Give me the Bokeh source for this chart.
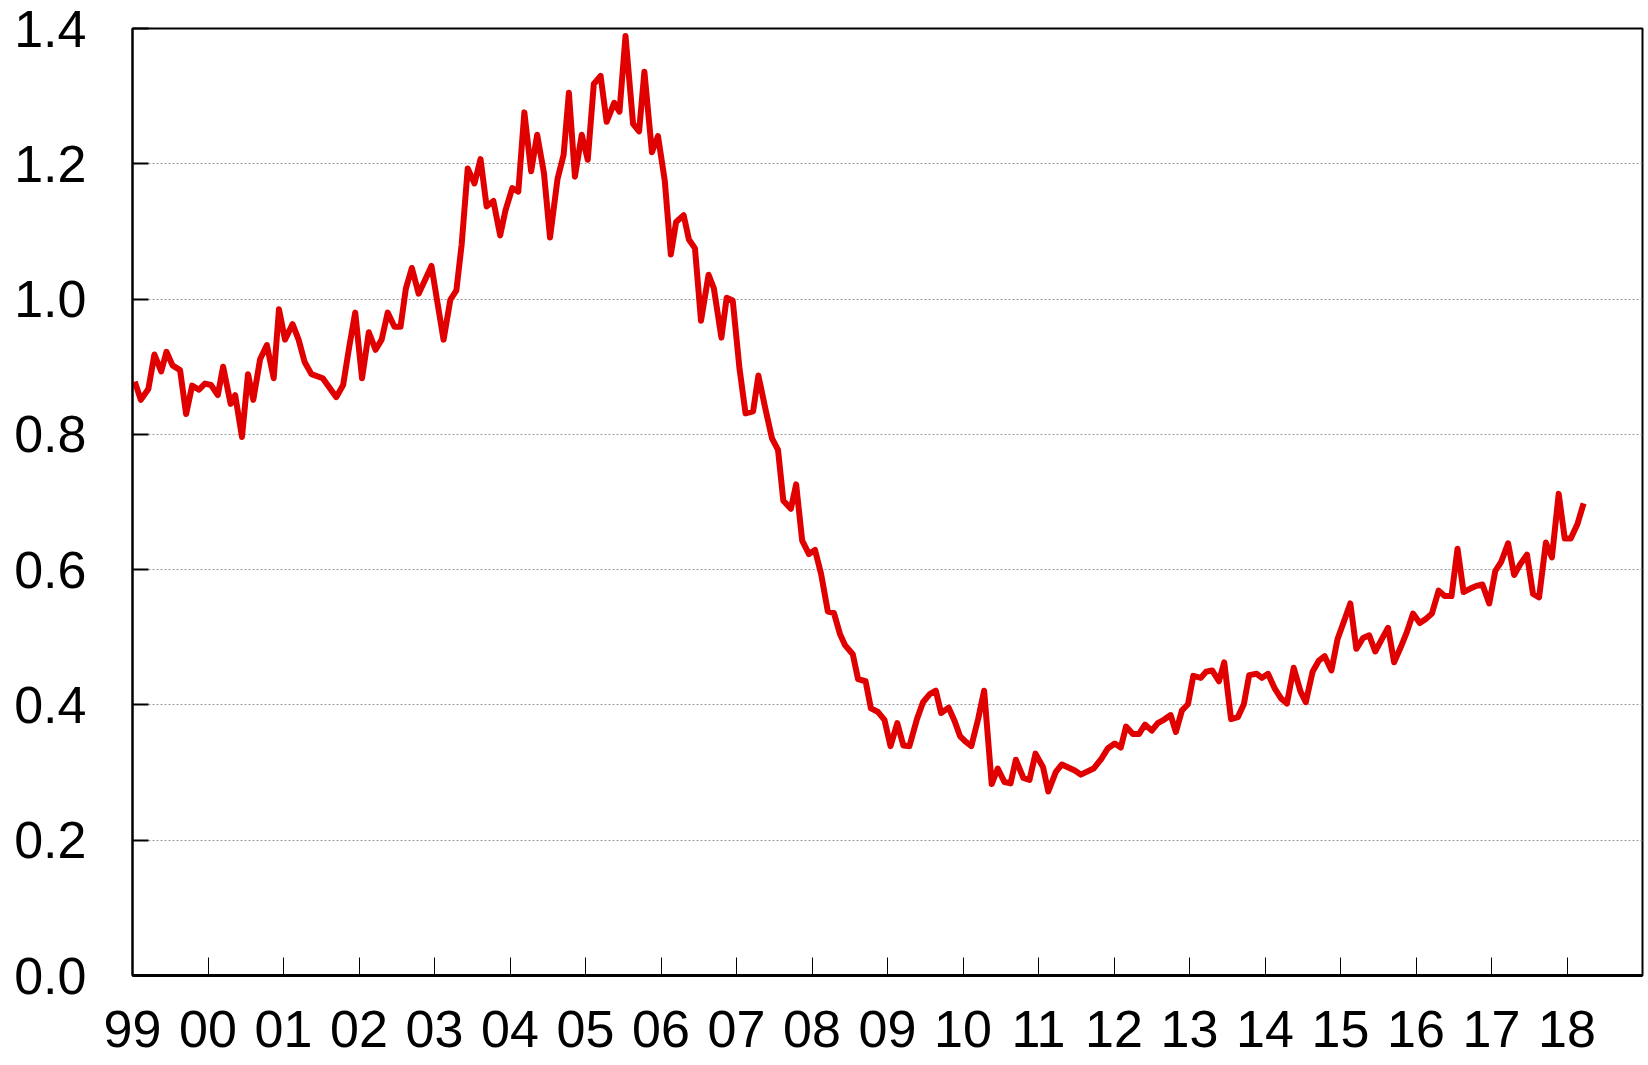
from bokeh.plotting import figure
from bokeh.models import FixedTicker, Range1d
from bokeh.embed import file_html
from bokeh.resources import INLINE

# Decimal-year positions of the traced points and their values
years = [
    1999.03, 1999.11, 1999.21, 1999.29, 1999.38, 1999.45, 1999.53, 1999.63, 1999.71, 1999.79,
    1999.88, 1999.96, 2000.04, 2000.13, 2000.20, 2000.30, 2000.36, 2000.45, 2000.53, 2000.60,
    2000.69, 2000.78, 2000.87, 2000.94, 2001.02, 2001.12, 2001.20, 2001.28, 2001.37, 2001.52,
    2001.70, 2001.79, 2001.87, 2001.95, 2002.04, 2002.13, 2002.22, 2002.30, 2002.38, 2002.47,
    2002.55, 2002.62, 2002.70, 2002.79, 2002.87, 2002.96, 2003.04, 2003.12, 2003.21, 2003.29,
    2003.36, 2003.44, 2003.53, 2003.61, 2003.69, 2003.78, 2003.87, 2003.94, 2004.03, 2004.11,
    2004.19, 2004.28, 2004.36, 2004.45, 2004.53, 2004.63, 2004.71, 2004.78, 2004.86, 2004.95,
    2005.03, 2005.11, 2005.20, 2005.28, 2005.38, 2005.45, 2005.53, 2005.63, 2005.71, 2005.78,
    2005.88, 2005.96, 2006.05, 2006.13, 2006.20, 2006.30, 2006.37, 2006.45, 2006.53, 2006.63,
    2006.70, 2006.80, 2006.87, 2006.95, 2007.04, 2007.12, 2007.22, 2007.29, 2007.38, 2007.47,
    2007.55, 2007.62, 2007.72, 2007.79, 2007.87, 2007.96, 2008.04, 2008.12, 2008.21, 2008.29,
    2008.37, 2008.44, 2008.54, 2008.61, 2008.71, 2008.78, 2008.87, 2008.96, 2009.04, 2009.13,
    2009.21, 2009.29, 2009.39, 2009.47, 2009.56, 2009.64, 2009.71, 2009.81, 2009.89, 2009.96,
    2010.03, 2010.11, 2010.20, 2010.28, 2010.38, 2010.46, 2010.55, 2010.63, 2010.70, 2010.80,
    2010.88, 2010.96, 2011.06, 2011.13, 2011.23, 2011.31, 2011.48, 2011.56, 2011.73, 2011.83,
    2011.92, 2012.01, 2012.09, 2012.16, 2012.25, 2012.33, 2012.41, 2012.50, 2012.58, 2012.66,
    2012.75, 2012.82, 2012.90, 2012.98, 2013.05, 2013.15, 2013.22, 2013.30, 2013.39, 2013.46,
    2013.55, 2013.64, 2013.72, 2013.79, 2013.89, 2013.96, 2014.04, 2014.13, 2014.21, 2014.29,
    2014.38, 2014.47, 2014.54, 2014.63, 2014.71, 2014.79, 2014.88, 2014.96, 2015.04, 2015.13,
    2015.21, 2015.30, 2015.38, 2015.46, 2015.56, 2015.63, 2015.71, 2015.80, 2015.88, 2015.96,
    2016.05, 2016.13, 2016.21, 2016.30, 2016.38, 2016.47, 2016.55, 2016.63, 2016.72, 2016.80,
    2016.88, 2016.97, 2017.05, 2017.13, 2017.22, 2017.30, 2017.38, 2017.47, 2017.55, 2017.63,
    2017.72, 2017.80, 2017.89, 2017.97, 2018.05, 2018.14, 2018.22,
]
values = [
    0.878, 0.851, 0.867, 0.918, 0.893, 0.922, 0.902, 0.895, 0.830, 0.872,
    0.866, 0.875, 0.873, 0.858, 0.900, 0.845, 0.858, 0.796, 0.889, 0.851,
    0.911, 0.932, 0.883, 0.985, 0.940, 0.963, 0.940, 0.907, 0.889, 0.883,
    0.855, 0.873, 0.929, 0.980, 0.883, 0.951, 0.925, 0.940, 0.980, 0.959,
    0.959, 1.015, 1.046, 1.008, 1.027, 1.049, 0.994, 0.940, 0.999, 1.013,
    1.081, 1.193, 1.171, 1.207, 1.137, 1.145, 1.094, 1.131, 1.164, 1.159,
    1.276, 1.189, 1.243, 1.186, 1.091, 1.178, 1.213, 1.305, 1.181, 1.243,
    1.206, 1.318, 1.330, 1.262, 1.290, 1.277, 1.389, 1.259, 1.248, 1.336,
    1.217, 1.241, 1.175, 1.066, 1.114, 1.124, 1.088, 1.075, 0.968, 1.036,
    1.016, 0.943, 1.002, 0.998, 0.897, 0.831, 0.834, 0.887, 0.839, 0.794,
    0.777, 0.702, 0.690, 0.726, 0.643, 0.623, 0.629, 0.594, 0.538, 0.536,
    0.505, 0.488, 0.475, 0.438, 0.435, 0.395, 0.390, 0.378, 0.339, 0.373,
    0.340, 0.339, 0.379, 0.404, 0.416, 0.421, 0.388, 0.396, 0.376, 0.354,
    0.346, 0.339, 0.379, 0.421, 0.283, 0.306, 0.286, 0.284, 0.319, 0.292,
    0.289, 0.328, 0.308, 0.272, 0.301, 0.312, 0.303, 0.297, 0.306, 0.320,
    0.336, 0.343, 0.337, 0.368, 0.357, 0.357, 0.371, 0.362, 0.373, 0.378,
    0.385, 0.360, 0.392, 0.401, 0.443, 0.440, 0.449, 0.451, 0.435, 0.463,
    0.379, 0.382, 0.401, 0.444, 0.446, 0.440, 0.446, 0.424, 0.410, 0.402,
    0.455, 0.420, 0.404, 0.449, 0.465, 0.472, 0.451, 0.497, 0.522, 0.550,
    0.483, 0.499, 0.503, 0.479, 0.500, 0.514, 0.463, 0.486, 0.508, 0.535,
    0.521, 0.527, 0.535, 0.569, 0.561, 0.561, 0.631, 0.567, 0.572, 0.576,
    0.578, 0.550, 0.598, 0.612, 0.639, 0.592, 0.608, 0.622, 0.564, 0.559,
    0.640, 0.618, 0.712, 0.646, 0.646, 0.668, 0.698,
]

year_ticks = list(range(1999, 2019))
year_labels = ["99", "00", "01", "02", "03", "04", "05", "06", "07", "08",
               "09", "10", "11", "12", "13", "14", "15", "16", "17", "18"]
y_ticks = [0.0, 0.2, 0.4, 0.6, 0.8, 1.0, 1.2, 1.4]
y_labels = ["0.0", "0.2", "0.4", "0.6", "0.8", "1.0", "1.2", "1.4"]

FONT = "Liberation Sans"

p = figure(width=1646, height=1064, output_backend="svg", toolbar_location=None,
           x_range=Range1d(1999, 2019), y_range=Range1d(0, 1.4),
           min_border_left=132, min_border_right=4, min_border_top=28, min_border_bottom=89)

p.background_fill_color = "white"
p.border_fill_color = "white"
p.outline_line_color = "black"
p.outline_line_width = 2

p.line(years, values, line_color="#e00000", line_width=6, line_join="round")

# x axis
xa = p.xaxis[0]
xa.ticker = FixedTicker(ticks=year_ticks)
xa.major_label_overrides = {t: l for t, l in zip(year_ticks, year_labels)}
xa.major_label_text_font = FONT
xa.major_label_text_font_size = "52px"
xa.major_label_text_color = "black"
xa.major_label_standoff = 35
xa.major_tick_in = 18
xa.major_tick_out = 0
xa.major_tick_line_color = "black"
xa.major_tick_line_width = 1
xa.minor_tick_line_color = None
xa.axis_line_color = "black"
xa.axis_line_width = 3

# y axis
ya = p.yaxis[0]
ya.ticker = FixedTicker(ticks=y_ticks)
ya.major_label_overrides = {t: l for t, l in zip(y_ticks, y_labels)}
ya.major_label_text_font = FONT
ya.major_label_text_font_size = "52px"
ya.major_label_text_color = "black"
ya.major_label_standoff = 46
ya.major_tick_in = 16
ya.major_tick_out = 0
ya.major_tick_line_color = "black"
ya.major_tick_line_width = 2
ya.minor_tick_line_color = None
ya.axis_line_color = "black"
ya.axis_line_width = 2

p.xgrid.grid_line_color = None
p.ygrid.grid_line_color = "#999999"
p.ygrid.grid_line_width = 1
p.ygrid.grid_line_dash = "2 2"

open("out.html", "w").write(file_html(p, INLINE))
